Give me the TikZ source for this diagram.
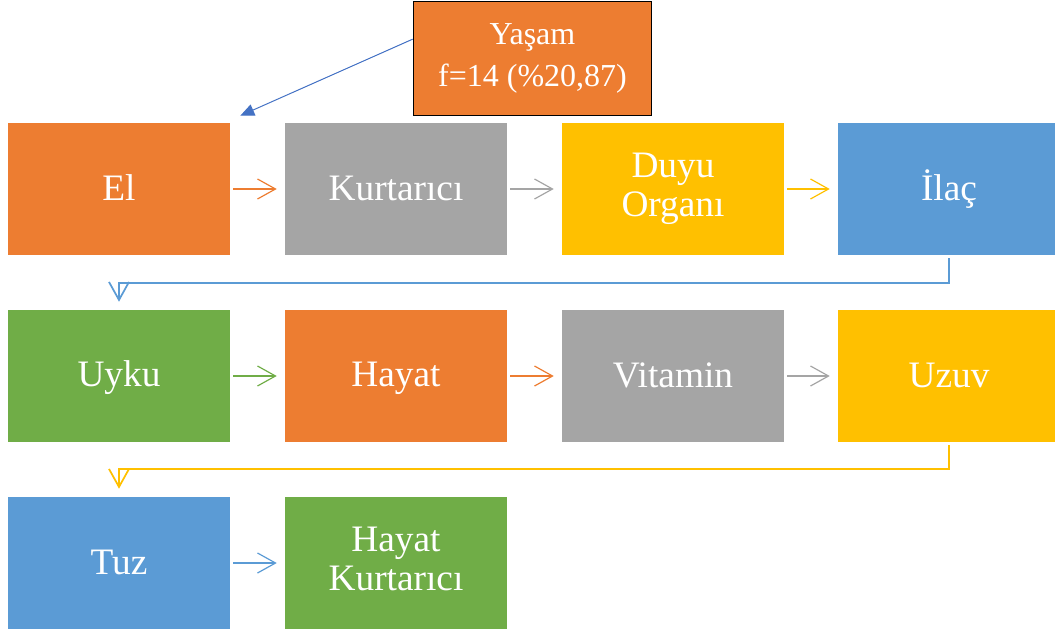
\documentclass[tikz,border=0pt]{standalone}
\usepackage{fontspec}
\setmainfont{Liberation Serif}
\usetikzlibrary{arrows.meta}
\definecolor{orng}{HTML}{ED7D31}
\definecolor{gry}{HTML}{A5A5A5}
\definecolor{gold}{HTML}{FFC000}
\definecolor{blu}{HTML}{5B9BD5}
\definecolor{grn}{HTML}{70AD47}
\definecolor{dblu}{HTML}{4472C4}
\newcommand{\boxstrut}{\rule[-6pt]{0pt}{28.5pt}}
\tikzset{box/.style={minimum width = 166.5pt,minimum height = 99pt,align = center,text = white,inner sep = 0pt,font = \fontsize{28}{29.5}\selectfont,execute at begin node = \boxstrut,execute at end node = \boxstrut},
top/.style={draw = black,line width = .75pt,fill = orng,minimum width = 179pt,minimum height = 85pt,align = center,text = white,font = \fontsize{24}{32}\selectfont},
arrow/.style = {-{Straight Barb[length = 13.5pt,width = 15pt]},line width = .9pt,shorten <= 2.25pt,shorten >= 6pt}}

\begin{document}
\begin{tikzpicture}[x = .75pt,y = -.75pt]
\clip (0,0) rectangle (1055,631);
\node[box,fill = orng] (a) at (119,189) {El};
\node[box,fill = gry] (b) at (396,189) {Kurtarıcı};
\node[box,fill = gold] (c) at (673,189) {Duyu \\ Organı};
\node[box,fill = blu] (d) at (949,189) {İlaç};

\node[box,fill = grn] (e) at (119,376) {Uyku};
\node[box,fill = orng] (f) at (396,376) {Hayat};
\node[box,fill = gry] (g) at (673,376) {Vitamin};
\node[box,fill = gold] (h) at (949,376) {Uzuv};

\node[box,fill = blu] (i) at (119,563) {Tuz};
\node[box,fill = grn] (j) at (396,563) {Hayat \\ Kurtarıcı};

\node[top] (k) at (532.5,58.5) {Yaşam \\ f=14 (\%20,87)};

\draw[arrow,orng] (a) -- (b);
\draw[arrow,gry] (b) -- (c);
\draw[arrow,gold] (c) -- (d);
\draw[arrow,blu,line width = 1.3pt] (d.south) -- ++ (0,28) -| (e.north);

\draw[arrow,grn] (e) -- (f);
\draw[arrow,orng] (f) -- (g);
\draw[arrow,gry] (g) -- (h);
\draw[arrow,gold,line width = 1.3pt] (h.south) -- ++ (0,27) -| (i.north);

\draw[arrow,blu] (i) -- (j);

\draw[-{Triangle[length = 10.5pt,width = 9pt]},dblu,line width = .75pt] ([yshift = 14.5pt]k.west) -- ([xshift = 7.5pt,yshift = 5.25pt]a.north east);
\end{tikzpicture}
\end{document}
